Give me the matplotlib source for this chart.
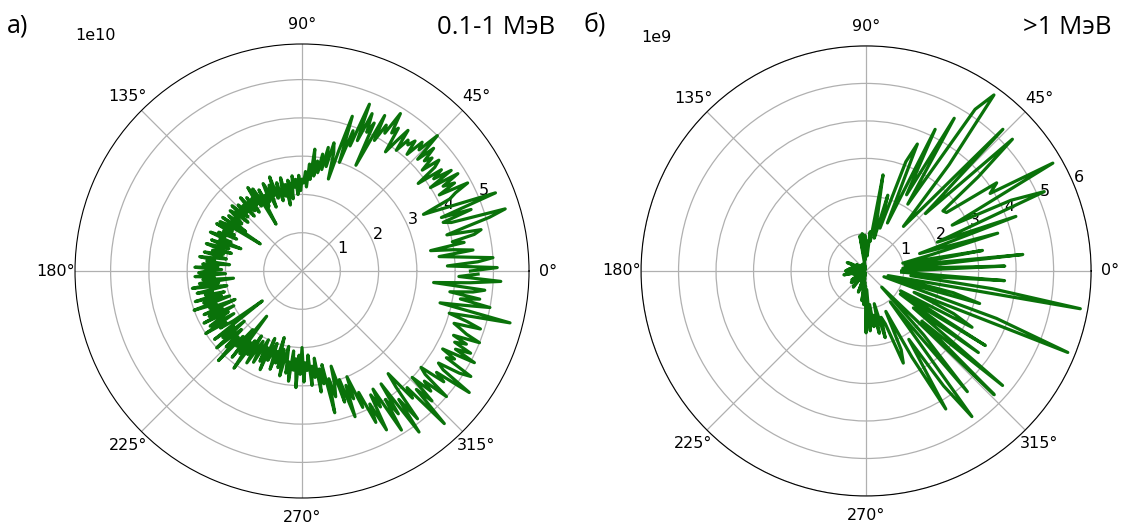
"""Polar distributions of particle flux for two energy ranges."""

import numpy as np
import matplotlib
matplotlib.use("Agg")
import matplotlib.pyplot as plt

# panel а): 0.1-1 MeV, 1 degree step, values in units of 1e10
low_deg = np.arange(0, 360, 1)
low_vals = [
    4.4, 5.1, 3.8, 4.6, 5.0, 4.2, 3.6, 4.5, 4.0, 3.4,
    4.3, 4.0, 4.6, 4.8, 3.9, 4.4, 5.1, 5.55, 4.1, 3.9,
    4.7, 3.9, 5.45, 4.6, 4.0, 3.5, 4.3, 4.5, 4.9, 4.1,
    4.6, 4.3, 4.8, 4.0, 4.7, 4.2, 4.5, 3.8, 4.4, 4.6,
    4.1, 4.5, 4.3, 4.7, 4.2, 5.0, 4.4, 4.6, 4.1, 4.5,
    4.3, 4.4, 4.0, 4.6, 4.2, 3.8, 4.5, 4.3, 4.85, 4.2,
    4.4, 3.9, 4.6, 3.1, 4.3, 4.0, 4.5, 3.7, 4.7, 3.5,
    3.9, 3.0, 4.25, 3.3, 2.5, 3.2, 3.45, 2.8, 3.3, 2.7,
    3.1, 2.6, 2.9, 2.5, 3.2, 2.4, 2.8, 2.2, 2.6, 2.3,
    2.4, 2.1, 2.5, 2.0, 2.4, 2.2, 2.5, 1.9, 2.3, 2.4,
    1.75, 2.3, 2.0, 2.5, 2.1, 1.9, 2.4, 2.2, 2.0, 2.6,
    2.1, 2.4, 1.8, 2.3, 2.5, 2.0, 2.2, 1.9, 2.4, 1.4,
    2.2, 2.5, 2.0, 2.6, 2.1, 2.3, 1.9, 2.4, 2.0, 2.2,
    2.5, 1.9, 2.3, 2.1, 2.4, 2.0, 2.2, 2.5, 1.9, 2.3,
    2.45, 2.1, 2.0, 2.4, 2.2, 1.8, 2.5, 1.3, 2.3, 2.5,
    2.1, 2.55, 2.0, 2.3, 1.9, 2.4, 2.2, 2.6, 2.0, 2.3,
    1.7, 2.5, 2.2, 2.0, 2.6, 2.3, 1.9, 2.4, 2.1, 2.6,
    2.2, 2.0, 2.7, 2.3, 2.5, 1.9, 2.6, 2.2, 2.8, 2.1,
    2.5, 2.7, 2.0, 2.8, 2.3, 2.6, 1.8, 2.7, 2.2, 2.9,
    2.3, 2.0, 2.8, 2.4, 2.6, 2.1, 2.9, 2.2, 2.7, 2.0,
    3.0, 2.4, 2.6, 1.9, 2.8, 2.3, 2.7, 2.0, 2.9, 2.2,
    2.5, 2.8, 2.1, 3.0, 2.4, 2.6, 2.2, 1.3, 2.9, 2.3,
    2.7, 2.0, 3.0, 2.5, 2.2, 2.8, 2.4, 3.2, 2.3, 2.6,
    2.0, 2.9, 1.5, 2.7, 2.3, 3.1, 2.2, 2.6, 2.0, 2.8,
    2.4, 2.1, 2.7, 2.3, 2.0, 2.6, 2.2, 2.8, 1.9, 2.5,
    2.3, 2.0, 2.7, 2.2, 2.5, 1.8, 2.6, 2.1, 2.8, 2.3,
    2.0, 2.7, 2.4, 2.9, 2.1, 2.6, 2.3, 3.05, 2.2, 2.7,
    2.0, 2.9, 2.4, 2.6, 2.2, 3.0, 2.5, 2.8, 2.3, 3.2,
    2.6, 3.0, 2.5, 3.8, 2.9, 3.4, 3.1, 2.6, 3.6, 3.0,
    4.05, 3.2, 3.6, 3.0, 3.9, 3.5, 4.4, 3.9, 4.7, 3.7,
    4.1, 3.6, 4.9, 4.0, 4.5, 3.6, 5.2, 4.2, 4.9, 3.9,
    3.5, 4.4, 4.1, 5.45, 4.3, 4.8, 4.0, 4.6, 4.3, 5.0,
    4.2, 4.0, 4.7, 4.4, 5.4, 4.5, 4.3, 4.9, 5.2, 4.4,
    4.6, 4.2, 5.1, 4.5, 4.9, 4.4, 4.7, 4.3, 5.0, 4.6,
    4.4, 4.2, 4.9, 4.5, 4.0, 4.6, 5.6, 3.7, 4.3, 5.0,
    4.2, 4.7, 3.9, 4.5, 4.8, 3.45, 4.4, 5.2, 4.1, 4.6,
]

# panel б): >1 MeV, 2 degree step, values in units of 1e9
high_deg = np.arange(0, 360, 2)
high_vals = [
    0.95, 3.7, 0.98, 4.2, 1.05, 3.15, 1.0, 1.8, 3.65, 1.5,      # 0-18
    4.25, 2.05, 5.2, 4.3, 2.6, 5.75, 3.9, 4.2, 2.65, 2.6,       # 20-38
    3.9, 5.25, 2.2, 5.25, 2.3, 1.55, 3.6, 5.8, 5.2, 2.1,        # 40-58
    4.7, 2.3, 4.2, 1.4, 3.65, 3.1, 1.2, 2.1, 0.9, 1.4,          # 60-78
    2.6, 0.8, 1.05, 0.4, 0.8, 0.5, 0.95, 0.3, 1.0, 0.4,         # 80-98
    0.95, 0.2, 0.1, 0.2, 0.1, 0.15, 0.05, 0.1, 0.2, 0.1,        # 100-118
    0.05, 0.1, 0.15, 0.05, 0.1, 0.2, 0.05, 0.1, 0.15, 0.05,     # 120-138
    0.1, 0.2, 0.1, 0.3, 0.1, 0.3, 0.1, 0.45, 0.55, 0.1,         # 140-158
    0.4, 0.05, 0.2, 0.1, 0.3, 0.1, 0.45, 0.2, 0.5, 0.15,        # 160-178
    0.55, 0.2, 0.1, 0.45, 0.3, 0.6, 0.1, 0.35, 0.05, 0.2,       # 180-198
    0.1, 0.15, 0.05, 0.2, 0.1, 0.3, 0.45, 0.1, 0.2, 0.5,        # 200-218
    0.1, 0.3, 0.1, 0.2, 0.05, 0.5, 0.55, 0.1, 0.3, 0.15,        # 220-238
    0.1, 0.2, 0.05, 0.3, 0.1, 0.6, 0.2, 0.5, 0.1, 0.4,          # 240-258
    0.2, 0.8, 0.3, 0.9, 0.4, 1.65, 0.5, 1.6, 0.9, 1.5,          # 260-278
    1.2, 1.7, 0.9, 1.85, 1.3, 1.5, 2.65, 2.3, 1.2, 2.6,         # 280-298
    4.25, 2.15, 3.7, 4.8, 1.05, 4.2, 2.3, 0.6, 4.75, 2.0,       # 300-318
    4.75, 1.6, 3.7, 1.1, 3.75, 1.06, 3.2, 2.6, 1.4, 5.8,        # 320-338
    3.7, 0.5, 3.15, 2.4, 0.6, 5.8, 3.4, 1.2, 3.7, 0.95,         # 340-358
]

LINE_COLOR = "#0a720a"

plt.rcParams["font.family"] = ["DejaVu Sans"]
plt.rcParams["font.size"] = 11.5

fig = plt.figure(figsize=(11.28, 5.32), dpi=100)
ax1 = fig.add_axes([0.0665, 0.0639, 0.4025, 0.8534], projection="polar")
ax2 = fig.add_axes([0.5683, 0.0677, 0.399, 0.846], projection="polar")

ax1.plot(np.deg2rad(low_deg), np.array(low_vals) * 1e10, color=LINE_COLOR, lw=2.3)
ax1.set_ylim(0, 5.93e10)

ax2.plot(np.deg2rad(high_deg), np.array(high_vals) * 1e9, color=LINE_COLOR, lw=2.3)
ax2.set_ylim(0, 6.0e9)

for ax in (ax1, ax2):
    ax.grid(True, color="#b0b0b0", lw=0.9)
    ax.tick_params(labelsize=11.5)
    ax.yaxis.get_offset_text().set_fontsize(11.5)

label_font = ["Open Sans", "DejaVu Sans"]
fig.text(0.006, 0.952, "а)", fontsize=18, family=label_font, va="center")
fig.text(0.517, 0.952, "б)", fontsize=18, family=label_font, va="center")
fig.text(0.492, 0.949, "0.1-1 МэВ", fontsize=18.5, family=label_font, va="center", ha="right")
fig.text(0.985, 0.949, ">1 МэВ", fontsize=18.5, family=label_font, va="center", ha="right")

fig.savefig("out.png", dpi=100)
plt.close(fig)
